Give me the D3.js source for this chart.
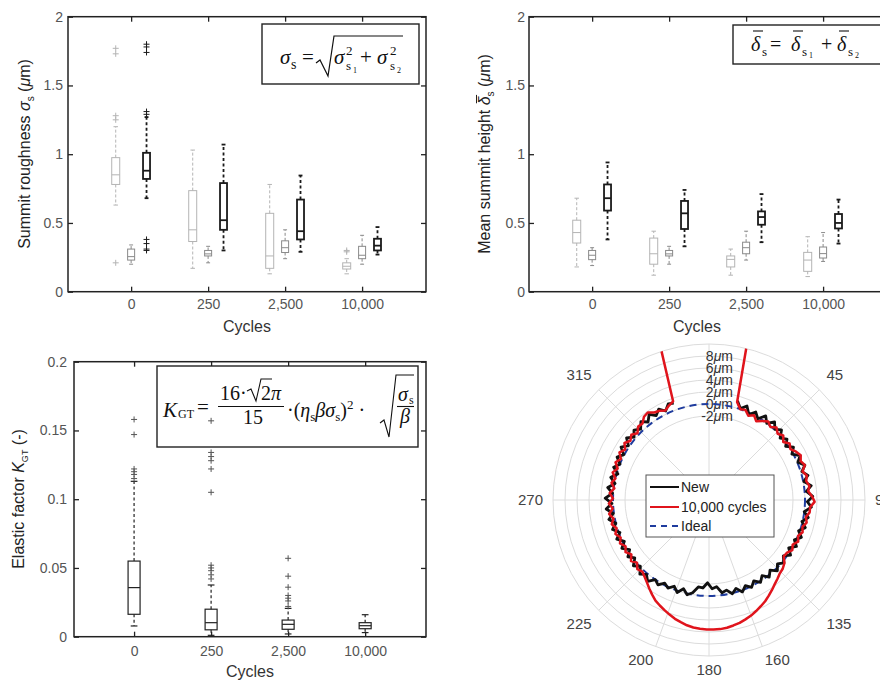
<!DOCTYPE html>
<html><head><meta charset="utf-8">
<script src="https://cdn.jsdelivr.net/npm/d3@7"></script>
<style>body{margin:0;background:#fff} svg{display:block}</style>
</head><body>
<svg id="chart" width="880" height="680"></svg>
<script>
// ---------------- DATA ----------------
const cycles = ["0", "250", "2,500", "10,000"];
const sigmaTicks = [0, 0.5, 1, 1.5, 2];
const kgtTicks = [0, 0.05, 0.1, 0.15, 0.2];
// box stats per cycle: [lower whisker, q1, median, q3, upper whisker]
const sigmaS1 = [[0.63,0.78,0.85,0.975,1.20],[0.17,0.365,0.45,0.735,1.03],[0.13,0.17,0.26,0.57,0.78],[0.13,0.165,0.185,0.21,0.24]];
const sigmaS1Out = [[0.21,1.25,1.28,1.73,1.77],[],[],[0.29,0.30]];
const sigmaS2 = [[0.20,0.23,0.255,0.31,0.34],[0.21,0.26,0.275,0.30,0.33],[0.24,0.285,0.32,0.37,0.45],[0.20,0.24,0.265,0.33,0.41]];
const sigmaS2Out = [[],[],[],[]];
const sigmaS = [[0.68,0.82,0.88,1.01,1.27],[0.30,0.45,0.52,0.79,1.07],[0.29,0.38,0.44,0.67,0.845],[0.27,0.30,0.335,0.385,0.47]];
const sigmaSOut = [[0.30,0.31,0.35,0.38,1.29,1.31,1.74,1.78,1.80],[],[],[]];

const deltaS1 = [[0.18,0.354,0.43,0.52,0.68],[0.12,0.20,0.276,0.39,0.44],[0.12,0.18,0.235,0.26,0.31],[0.11,0.148,0.23,0.286,0.40]];
const deltaS2 = [[0.19,0.233,0.265,0.30,0.32],[0.20,0.26,0.275,0.30,0.33],[0.23,0.276,0.32,0.36,0.44],[0.22,0.245,0.277,0.325,0.43]];
const deltaS = [[0.38,0.59,0.68,0.78,0.94],[0.33,0.456,0.57,0.66,0.74],[0.36,0.487,0.543,0.584,0.71],[0.35,0.46,0.50,0.565,0.67]];
const noOut = [[],[],[],[]];

const kgt = [[0.0078,0.0163,0.0357,0.055,0.113],[0.001,0.005,0.0102,0.020,0.0376],[0.002,0.0054,0.009,0.0121,0.0206],[0.003,0.0058,0.008,0.0102,0.016]];
const kgtOut = [[0.115,0.118,0.120,0.122,0.147,0.158],
                [0.042,0.045,0.048,0.050,0.052,0.105,0.122,0.128,0.131,0.134,0.157],
                [0.022,0.026,0.028,0.030,0.036,0.044,0.057],[]];

// polar roundness profile (deviation in µm), sampled every 3° from 16° to 340°
const profileAngles = d3.range(16, 341, 3);
const newProfile = [
 1.2,0.1,0.9,-0.3,0.6,-0.2,0.9,0.0,1.0,0.1,
 0.8,-0.3,0.5,-0.4,0.6,-0.2,0.9,0.1,1.0,0.2,
 1.0,0.1,1.2,0.3,1.3,0.4,1.1,0.0,0.8,-0.1,
 0.7,-0.2,0.6,-0.3,0.5,-0.5,0.4,-0.5,0.3,-0.4,
 0.4,-0.5,0.3,-0.6,0.2,-0.6,0.2,-0.5,0.3,-0.6,
 0.1,-0.7,-0.4,-1.5,-1.2,-2.2,-1.3,-1.4,-0.3,0.2,
 -0.6,0.3,-0.5,0.2,-0.3,0.5,0.0,1.0,0.2,0.9,
 -0.1,0.7,-0.3,0.5,-0.4,0.6,-0.3,0.7,-0.2,0.8,
 0.0,1.0,0.1,1.2,0.2,1.3,0.1,1.0,-0.1,0.8,
 -0.2,0.8,0.0,0.9,0.1,1.1,0.2,1.2,0.3,1.1,
 0.4,1.3,0.5,1.4,0.6,1.3,0.5,1.4,1.2];
const wornProfile = [
 1.0,0.0,0.2,-0.5,0.0,-0.7,-0.1,0.4,-0.1,0.5,
 -0.1,0.4,-0.3,0.4,0.0,0.6,1.0,0.6,1.0,0.3,
 0.8,0.5,0.9,0.6,1.2,1.6,0.9,0.9,0.4,0.7,
 0.2,0.5,0.0,0.4,-0.2,0.2,-0.3,-0.4,0.4,0.8,
 1.0,1.4,1.8,2.3,2.8,3.3,3.7,4.1,4.5,4.8,
 5.1,5.3,5.5,5.6,5.6,5.6,5.5,5.4,5.2,4.9,
 4.6,4.2,3.8,3.4,3.0,2.4,1.8,1.2,0.7,0.3,
 0.6,-0.1,0.5,-0.2,0.4,-0.1,0.5,0.0,0.6,0.1,
 0.7,0.2,0.8,0.1,0.7,0.0,0.6,-0.1,0.5,0.0,
 0.7,0.1,0.8,0.2,0.9,0.3,1.0,0.4,0.9,0.3,
 1.0,0.9,1.6,1.8,1.2,1.0,0.6,1.1,1.5];
// worn profile runs off-scale at the oil groove edges
const wornEdgeAngles = [13.7, 342.4];
const wornEdgeValues = [10.6, 10.6];
const idealDeviation = 0;
const rTicks = [-2, 0, 2, 4, 6, 8];
const rLimits = [-16, 10];
const thetaTicks = [45, 90, 135, 160, 180, 200, 225, 270, 315];
const spokeAngles = [0, 45, 90, 135, 160, 180, 200, 225, 270, 315];
const legendLabels = ["New", "10,000 cycles", "Ideal"];

// ---------------- DRAW ----------------
const svg = d3.select("#chart");
const SANS = "'Liberation Sans', Arial, sans-serif";
const SERIF = "'Liberation Serif', 'Times New Roman', serif";

function panel(o) {
  const g = svg.append("g");
  const x = d3.scaleLinear().domain(o.xDomain).range([o.x0, o.x1]);
  const y = d3.scaleLinear().domain(o.yDomain).range([o.y1, o.y0]);
  const cats = [1, 2, 3, 4];
  const style = sel => {
    sel.select(".domain").remove();
    sel.selectAll(".tick line").attr("stroke", "#222").attr("stroke-width", 1.3);
    sel.selectAll("text").attr("fill", "#555").style("font-family", SANS).style("font-size", "14px");
  };
  g.append("g").attr("transform", `translate(${o.x0},0)`)
    .call(d3.axisLeft(y).tickValues(o.yTicks).tickSizeInner(-5).tickSizeOuter(0).tickPadding(o.yPad).tickFormat(d => String(d))).call(style);
  g.append("g").attr("transform", `translate(${o.x1},0)`)
    .call(d3.axisRight(y).tickValues(o.yTicks).tickSizeInner(-5).tickSizeOuter(0).tickFormat("")).call(style);
  g.append("g").attr("transform", `translate(0,${o.y1})`)
    .call(d3.axisBottom(x).tickValues(cats).tickSizeInner(-5).tickSizeOuter(0).tickPadding(o.xPad).tickFormat((d, i) => cycles[i])).call(style);
  g.append("g").attr("transform", `translate(0,${o.y0})`)
    .call(d3.axisTop(x).tickValues(cats).tickSizeInner(-5).tickSizeOuter(0).tickFormat("")).call(style);
  g.append("rect").attr("x", o.x0).attr("y", o.y0).attr("width", o.x1 - o.x0).attr("height", o.y1 - o.y0)
    .attr("fill", "none").attr("stroke", "#222").attr("stroke-width", 1.5);
  return { g, x, y };
}

function boxes(p, stats, outs, offset, color, sw, w, dash, outColor) {
  const gg = p.g.append("g");
  stats.forEach((s, i) => {
    const cx = p.x(i + 1 + offset);
    const [lo, q1, med, q3, hi] = s;
    gg.append("line").attr("x1", cx).attr("x2", cx).attr("y1", p.y(q3)).attr("y2", p.y(hi))
      .attr("stroke", color).attr("stroke-width", sw).attr("stroke-dasharray", dash);
    gg.append("line").attr("x1", cx).attr("x2", cx).attr("y1", p.y(q1)).attr("y2", p.y(lo))
      .attr("stroke", color).attr("stroke-width", sw).attr("stroke-dasharray", dash);
    [lo, hi].forEach(v => gg.append("line").attr("x1", cx - w * 0.28).attr("x2", cx + w * 0.28)
      .attr("y1", p.y(v)).attr("y2", p.y(v)).attr("stroke", color).attr("stroke-width", sw));
    gg.append("rect").attr("x", cx - w / 2).attr("y", p.y(q3)).attr("width", w).attr("height", p.y(q1) - p.y(q3))
      .attr("fill", "none").attr("stroke", color).attr("stroke-width", sw);
    gg.append("line").attr("x1", cx - w / 2).attr("x2", cx + w / 2).attr("y1", p.y(med)).attr("y2", p.y(med))
      .attr("stroke", color).attr("stroke-width", sw);
    (outs[i] || []).forEach(v => {
      const yy = p.y(v);
      gg.append("path").attr("d", `M${cx - 3},${yy}H${cx + 3}M${cx},${yy - 3}V${yy + 3}`)
        .attr("stroke", outColor || color).attr("stroke-width", 1);
    });
  });
}

function t(g, x, y, str, size, italic, anchor) {
  return g.append("text").attr("x", x).attr("y", y).text(str)
    .style("font-family", SERIF).style("font-size", size + "px")
    .style("font-style", italic ? "italic" : "normal").attr("fill", "#111")
    .attr("text-anchor", anchor || "start");
}

const LIGHT = "#b4b4b4", MID = "#8a8a8a", DARK = "#1a1a1a";

// ---- Panel 1: summit roughness ----
const p1 = panel({ x0: 68, x1: 426, y0: 16.7, y1: 291.7, xDomain: [0.18, 4.83], yDomain: [0, 2], yTicks: sigmaTicks, yPad: 5, xPad: 7 });
{
  const e = p1.g.append("g");
  e.append("rect").attr("x", 262).attr("y", 24).attr("width", 157).attr("height", 60).attr("fill", "#fff").attr("stroke", "#222").attr("stroke-width", 1.4);
  t(e, 280, 64, "σ", 21, true); t(e, 291, 69, "s", 14);
  t(e, 302, 64, "=", 21);
  e.append("path").attr("d", "M316,63 L320,60 L328,76 L334,36 L403,36").attr("fill", "none").attr("stroke", "#111").attr("stroke-width", 1.2);
  t(e, 334, 64, "σ", 21, true); t(e, 346, 55, "2", 13); t(e, 346, 70, "s", 13); t(e, 353, 73, "1", 8);
  t(e, 360, 64, "+", 21);
  t(e, 377, 64, "σ", 21, true); t(e, 390, 55, "2", 13); t(e, 390, 70, "s", 13); t(e, 397, 73, "2", 8);
}
boxes(p1, sigmaS1, sigmaS1Out, -0.2, LIGHT, 1, 8, "3,2");
boxes(p1, sigmaS2, sigmaS2Out, 0, MID, 1, 7, "3,2");
boxes(p1, sigmaS, sigmaSOut, 0.2, DARK, 1.8, 7, "3,2.5");
{
  const lab = svg.append("text").attr("transform", "translate(30,154) rotate(-90)").attr("text-anchor", "middle")
    .style("font-family", SANS).style("font-size", "16px").attr("fill", "#222");
  lab.append("tspan").text("Summit roughness ");
  lab.append("tspan").text("σ").style("font-style", "italic");
  lab.append("tspan").text("s").style("font-size", "10px").attr("dy", 4);
  lab.append("tspan").text(" (").attr("dy", -4);
  lab.append("tspan").text("μ").style("font-style", "italic");
  lab.append("tspan").text("m)");
  svg.append("text").attr("x", 247).attr("y", 332).attr("text-anchor", "middle").text("Cycles")
    .style("font-family", SANS).style("font-size", "16px").attr("fill", "#333");
}

// ---- Panel 2: mean summit height ----
const p2 = panel({ x0: 529, x1: 887, y0: 16.7, y1: 291.7, xDomain: [0.18, 4.83], yDomain: [0, 2], yTicks: sigmaTicks, yPad: 4, xPad: 7 });
{
  const e = p2.g.append("g");
  e.append("rect").attr("x", 733).attr("y", 25).attr("width", 170).attr("height", 39).attr("fill", "#fff").attr("stroke", "#222").attr("stroke-width", 1.4);
  const bar = (x1, x2, y) => e.append("line").attr("x1", x1).attr("x2", x2).attr("y1", y).attr("y2", y).attr("stroke", "#111").attr("stroke-width", 1.1);
  t(e, 751, 51, "δ", 20, true); bar(753, 763, 31); t(e, 762, 56, "s", 13);
  t(e, 770, 51, "=", 20);
  t(e, 791, 51, "δ", 20, true); bar(793, 803, 31); t(e, 802, 56, "s", 13); t(e, 809, 58, "1", 8);
  t(e, 821, 51, "+", 20);
  t(e, 837, 51, "δ", 20, true); bar(839, 849, 31); t(e, 848, 56, "s", 13); t(e, 855, 58, "2", 8);
}
boxes(p2, deltaS1, noOut, -0.2, LIGHT, 1, 8, "3,2");
boxes(p2, deltaS2, noOut, 0, MID, 1, 7, "3,2");
boxes(p2, deltaS, noOut, 0.2, DARK, 1.8, 7, "3,2.5");
{
  const lg = svg.append("g").attr("transform", "translate(490,154) rotate(-90)");
  const lab = lg.append("text").attr("text-anchor", "middle")
    .style("font-family", SANS).style("font-size", "16px").attr("fill", "#222");
  const pre = "Mean summit height ";
  lab.append("tspan").text(pre);
  lab.append("tspan").text("δ").style("font-style", "italic");
  lab.append("tspan").text("s").style("font-size", "10px").attr("dy", 4);
  lab.append("tspan").text(" (").attr("dy", -4);
  lab.append("tspan").text("μ").style("font-style", "italic");
  lab.append("tspan").text("m)");
  const node = lab.node();
  const s = node.getStartPositionOfChar(pre.length), en = node.getEndPositionOfChar(pre.length);
  lg.append("line").attr("x1", s.x + 2).attr("x2", en.x + 1.5).attr("y1", s.y - 13.5).attr("y2", s.y - 13.5)
    .attr("stroke", "#222").attr("stroke-width", 1);
  svg.append("text").attr("x", 697).attr("y", 332).attr("text-anchor", "middle").text("Cycles")
    .style("font-family", SANS).style("font-size", "16px").attr("fill", "#333");
}

// ---- Panel 3: elastic factor ----
const p3 = panel({ x0: 74, x1: 426, y0: 361.7, y1: 636.7, xDomain: [0.22, 4.79], yDomain: [0, 0.2], yTicks: kgtTicks, yPad: 7, xPad: 9 });
{
  const e = p3.g.append("g");
  e.append("rect").attr("x", 157).attr("y", 366).attr("width", 261).attr("height", 81).attr("fill", "#fff").attr("stroke", "#222").attr("stroke-width", 1.4);
  t(e, 163, 417, "K", 21, true); t(e, 178, 418, "GT", 12);
  t(e, 197, 414, "=", 21);
  t(e, 220, 400, "16·", 20);
  e.append("path").attr("d", "M247,391 L251,389 L256,401 L261,379 L272,379").attr("fill", "none").attr("stroke", "#111").attr("stroke-width", 1.1);
  t(e, 261, 400, "2", 20); t(e, 271, 400, "π", 20, true);
  e.append("line").attr("x1", 218).attr("x2", 284).attr("y1", 406.5).attr("y2", 406.5).attr("stroke", "#111").attr("stroke-width", 1.1);
  t(e, 243, 424, "15", 20);
  const tx = t(e, 287, 417, "·(", 20);
  tx.append("tspan").text("η").style("font-style", "italic");
  tx.append("tspan").text("s").style("font-size", "13px").attr("dy", 4);
  tx.append("tspan").text("βσ").style("font-style", "italic").attr("dy", -4);
  tx.append("tspan").text("s").style("font-size", "13px").attr("dy", 4);
  tx.append("tspan").text(")").attr("dy", -4);
  tx.append("tspan").text("2").style("font-size", "13px").attr("dy", -8);
  tx.append("tspan").text(" ·").attr("dy", 8);
  e.append("path").attr("d", "M380,423 L384,420 L389,437 L396,375 L414,375").attr("fill", "none").attr("stroke", "#111").attr("stroke-width", 1.1);
  t(e, 398, 401, "σ", 20, true); t(e, 409, 404, "s", 12);
  e.append("line").attr("x1", 397).attr("x2", 414).attr("y1", 406.5).attr("y2", 406.5).attr("stroke", "#111").attr("stroke-width", 1.1);
  t(e, 400, 423, "β", 20, true);
}
boxes(p3, kgt, kgtOut, 0, "#222", 1.2, 12, "3,2.5", "#555");
{
  const lab = svg.append("text").attr("transform", "translate(24,499) rotate(-90)").attr("text-anchor", "middle")
    .style("font-family", SANS).style("font-size", "16px").attr("fill", "#222");
  lab.append("tspan").text("Elastic factor ");
  lab.append("tspan").text("K").style("font-style", "italic");
  lab.append("tspan").text("GT").style("font-size", "9px").attr("dy", 4);
  lab.append("tspan").text(" (-)").attr("dy", -4);
  svg.append("text").attr("x", 250).attr("y", 677).attr("text-anchor", "middle").text("Cycles")
    .style("font-family", SANS).style("font-size", "16px").attr("fill", "#333");
}

// ---- Panel 4: polar roundness ----
{
  const cx = 709, cy = 500;
  const pc = svg.append("g").attr("transform", `translate(${cx},${cy})`);
  const r = d3.scaleLinear().domain(rLimits).range([0, 156]);
  const rad = a => a * Math.PI / 180;
  const grid = pc.append("g").attr("stroke", "#dcdcdc").attr("fill", "none").attr("stroke-width", 1);
  rTicks.concat([rLimits[1]]).forEach(v => grid.append("circle").attr("r", r(v)));
  spokeAngles.forEach(a => grid.append("line").attr("x1", 0).attr("y1", 0)
    .attr("x2", r(rLimits[1]) * Math.sin(rad(a))).attr("y2", -r(rLimits[1]) * Math.cos(rad(a))));
  // theta labels
  thetaTicks.forEach(a => {
    const s = Math.sin(rad(a)), c = Math.cos(rad(a));
    const R = c < -0.9 ? 163 : 166;
    const anchor = s > 0.3 ? "start" : (s < -0.3 ? "end" : "middle");
    const dy = c > 0.3 ? "-0.15em" : (c < -0.3 ? "0.8em" : "0.35em");
    pc.append("text").attr("x", R * s).attr("y", -R * c).attr("dy", dy).attr("text-anchor", anchor)
      .text(String(a)).style("font-family", SANS).style("font-size", "15px").attr("fill", "#444");
  });
  // r labels
  rTicks.forEach(v => {
    const tx = pc.append("text").attr("x", 24).attr("y", -r(v)).attr("dy", "0.35em").attr("text-anchor", "end")
      .style("font-family", SANS).style("font-size", "14px").attr("fill", "#333");
    tx.append("tspan").text(String(v));
    tx.append("tspan").text("μ").style("font-style", "italic");
    tx.append("tspan").text("m");
  });
  pc.append("clipPath").attr("id", "pclip").append("circle").attr("r", r(rLimits[1]));
  const data = pc.append("g").attr("clip-path", "url(#pclip)");
  const line = d3.lineRadial().angle(d => rad(d[0])).radius(d => r(d[1]));
  data.append("circle").attr("r", r(idealDeviation)).attr("fill", "none").attr("stroke", "#1f3c9e")
    .attr("stroke-width", 2).attr("stroke-dasharray", "7,5");
  const newPts = profileAngles.map((a, i) => [a, newProfile[i]]);
  data.append("path").attr("d", line(newPts)).attr("fill", "none").attr("stroke", "#111").attr("stroke-width", 2.8).attr("stroke-linejoin", "round");
  const wornPts = [[wornEdgeAngles[0], wornEdgeValues[0]]].concat(profileAngles.map((a, i) => [a, wornProfile[i]]), [[wornEdgeAngles[1], wornEdgeValues[1]]]);
  data.append("path").attr("d", line(wornPts)).attr("fill", "none").attr("stroke", "#e0141c").attr("stroke-width", 2.5).attr("stroke-linejoin", "round");
  // legend
  const lg = svg.append("g");
  lg.append("rect").attr("x", 646).attr("y", 475).attr("width", 128).attr("height", 62).attr("fill", "#fff").attr("stroke", "#555").attr("stroke-width", 1);
  const ly = [487, 507, 526];
  const lstyle = [{ c: "#111", d: null }, { c: "#e0141c", d: null }, { c: "#1f3c9e", d: "6,5" }];
  legendLabels.forEach((lbl, i) => {
    lg.append("line").attr("x1", 650).attr("x2", 679).attr("y1", ly[i]).attr("y2", ly[i])
      .attr("stroke", lstyle[i].c).attr("stroke-width", 2).attr("stroke-dasharray", lstyle[i].d);
    lg.append("text").attr("x", 681).attr("y", ly[i]).attr("dy", "0.35em").text(lbl)
      .style("font-family", SANS).style("font-size", "14px").attr("fill", "#222");
  });
}
</script>
</body></html>
